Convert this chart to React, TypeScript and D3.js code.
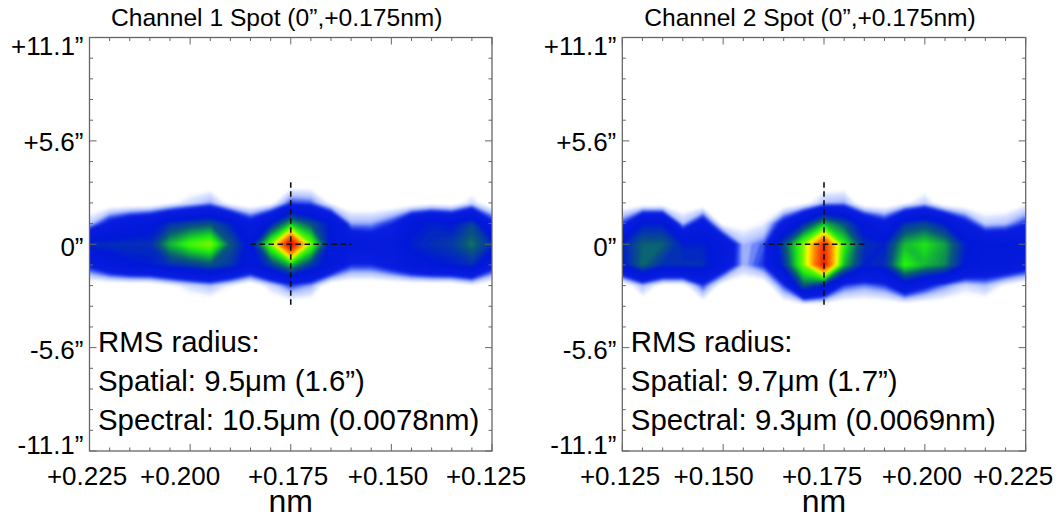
import React from 'react'
import * as d3 from 'd3'

const rowArcsec = [3.33, 2.22, 1.11, 0, -1.11, -2.22, -3.33]
const wavelengthTicks = [0.225, 0.2, 0.175, 0.15, 0.125]
const tickLabels = ['+0.225', '+0.200', '+0.175', '+0.150', '+0.125']
const arcsecTicks = [11.1, 5.55, 0, -5.55, -11.1]
const arcsecLabels = ['+11.1”', '+5.6”', '0”', '-5.6”', '-11.1”']
const crossWavelength = [0.185, 0.16]

// relative intensity, rows from +2.2" down to -2.2", columns left to right as drawn
const ch1Intensity = [
  [0, 0, 0, 0, 3, 6, 9, 2, 0, 2, 12, 11, 3, 0, 0, 0, 0, 2, 1, 6, 0],
  [7, 16, 21, 24, 30, 33, 35, 28, 17, 27, 44, 35, 26, 9, 9, 13, 25, 28, 26, 33, 16],
  [30, 30, 30, 30, 44, 52, 56, 36, 24, 55, 100, 55, 24, 22, 20, 20, 28, 30, 32, 39, 30],
  [15, 22, 26, 27, 30, 32, 35, 31, 23, 32, 44, 32, 23, 13, 13, 17, 23, 26, 27, 30, 17],
  [0, 0, 0, 0, 3, 6, 8, 4, 0, 6, 12, 9, 0, 0, 0, 0, 0, 0, 0, 3, 0],
]
const ch2Intensity = [
  [0, 0, 0, 0, 0, 0, 0, 0, 0, 2, 8, 9, 0, 0, 3, 7, 0, 0, 0, 0, 3],
  [12, 27, 27, 8, 18, 2, 2, 4, 16, 29, 44, 35, 23, 16, 30, 33, 27, 16, 7, 8, 13],
  [28, 37, 37, 28, 28, 22, 8, 11, 34, 56, 88, 50, 30, 28, 44, 48, 42, 28, 24, 24, 22],
  [26, 38, 30, 30, 30, 20, 8, 13, 30, 56, 92, 44, 28, 30, 50, 44, 40, 26, 22, 22, 18],
  [0, 8, 2, 2, 12, 1, 0, 0, 12, 36, 27, 12, 10, 12, 22, 15, 10, 6, 8, 3, 0],
]

const colorStops = [0, 3, 3.5, 7.5, 10.5, 13, 26, 36, 42, 48, 55, 62, 74, 88, 100]
const colorValues = [
  '#ffffff', '#ffffff', '#eaf0ff', '#b0c0ff', '#3a58f0', '#0a1ee0', '#0018d8', '#0a5a78',
  '#10a840', '#20f010', '#80f400', '#ffff00', '#ff8000', '#f02800', '#c81000',
]

const levels = d3.range(3.2, 100, 1.2)
const color = d3.scaleLinear<string>().domain(colorStops).range(colorValues)
const contours = d3.contours()

const plotTop = 37.5
const plotBottom = 451
const labelYShift = [17.5, 10, 12, 11, 3]

const Panel = ({id, title, grid, left, right, domain, labelShift, lines}) => {
  const x = d3.scaleLinear().domain(domain).range([left, right])
  const y = d3.scaleLinear().domain([11.1, -11.1]).range([plotTop, plotBottom])

  const zeros = grid[0].map(() => 0)
  const rows = [zeros, ...grid, zeros]
  const nx = zeros.length
  const ny = rows.length
  const step = (domain[1] - domain[0]) / (nx - 1)

  const path = d3.geoPath(d3.geoTransform({
    point(cx, cy) {
      const rowStep = rowArcsec[1] - rowArcsec[0]
      this.stream.point(x(domain[0] + (cx - 0.5) * step), y(rowArcsec[0] + (cy - 0.5) * rowStep))
    },
  }))
  const bands = contours.size([nx, ny]).thresholds(levels)(rows.flat())

  const minorX = d3.range(0, nx).map(i => domain[0] + i * step)
  const minorY = d3.range(-10, 11).map(i => i * 1.11)
  const axisColor = '#666'

  return (
    <g>
      <clipPath id={id}>
        <rect x={left} y={plotTop} width={right - left} height={plotBottom - plotTop} />
      </clipPath>
      <g clipPath={`url(#${id})`}>
        <g filter="url(#soften)">
          {bands.map((b, i) => (
            <path key={i} d={path(b)} fill={color(b.value)} stroke="none" />
          ))}
        </g>
      </g>

      <rect x={left} y={plotTop} width={right - left} height={plotBottom - plotTop}
        fill="none" stroke={axisColor} strokeWidth={1.3} />
      {minorX.map((v, i) => {
        const len = i % 5 === 0 ? 7 : 3.5
        return (
          <g key={i} stroke={axisColor} strokeWidth={1}>
            <line x1={x(v)} x2={x(v)} y1={plotTop} y2={plotTop + len} />
            <line x1={x(v)} x2={x(v)} y1={plotBottom} y2={plotBottom - len} />
          </g>
        )
      })}
      {minorY.map((v, i) => {
        const len = i % 5 === 0 ? 7 : 3.5
        return (
          <g key={i} stroke={axisColor} strokeWidth={1}>
            <line x1={left} x2={left + len} y1={y(v)} y2={y(v)} />
            <line x1={right} x2={right - len} y1={y(v)} y2={y(v)} />
          </g>
        )
      })}

      <g stroke="#111" strokeWidth={1.6} strokeDasharray="5.5 3.5" fill="none">
        <line x1={x(crossWavelength[0])} x2={x(crossWavelength[1])} y1={y(0)} y2={y(0)} />
        <line x1={x(0.175)} x2={x(0.175)} y1={y(3.33)} y2={y(-3.33)} />
      </g>

      <g fontFamily="Liberation Sans" fill="#000">
        <text x={(left + right) / 2 - 14} y={26} fontSize={24.6} textAnchor="middle">{title}</text>
        {arcsecTicks.map((v, i) => (
          <text key={v} x={left - 6} y={y(v) + labelYShift[i]} fontSize={26} textAnchor="end">{arcsecLabels[i]}</text>
        ))}
        {wavelengthTicks.map((v, i) => (
          <text key={v} x={x(v) + labelShift[i]} y={485} fontSize={26} textAnchor="middle">{tickLabels[i]}</text>
        ))}
        <text x={x(0.175)} y={511.5} fontSize={32} textAnchor="middle">nm</text>
        {lines.map((t, i) => (
          <text key={t} x={left + 8.5} y={351.7 + i * 39.2} fontSize={29.4}>{t}</text>
        ))}
      </g>
    </g>
  )
}

export default function App() {
  return (
    <svg width={1059} height={515} style={{position: 'absolute', left: 0, top: 0, background: '#fff'}}>
      <defs>
        <filter id="soften" x="-5%" y="-5%" width="110%" height="110%" colorInterpolationFilters="sRGB">
          <feGaussianBlur stdDeviation={0.8} />
        </filter>
      </defs>
      <Panel id="ch1" title="Channel 1 Spot (0”,+0.175nm)" grid={ch1Intensity}
        left={89.5} right={492} domain={[0.225, 0.125]}
        labelShift={[-2.5, -10, -2.7, -3.4, -6]}
        lines={['RMS radius:', 'Spatial: 9.5μm (1.6”)', 'Spectral: 10.5μm (0.0078nm)']} />
      <Panel id="ch2" title="Channel 2 Spot (0”,+0.175nm)" grid={ch2Intensity}
        left={622.3} right={1025.7} domain={[0.125, 0.225]}
        labelShift={[-12.7, -3, -2, -9.5, -2.3]}
        lines={['RMS radius:', 'Spatial: 9.7μm (1.7”)', 'Spectral: 9.3μm (0.0069nm)']} />
    </svg>
  )
}
